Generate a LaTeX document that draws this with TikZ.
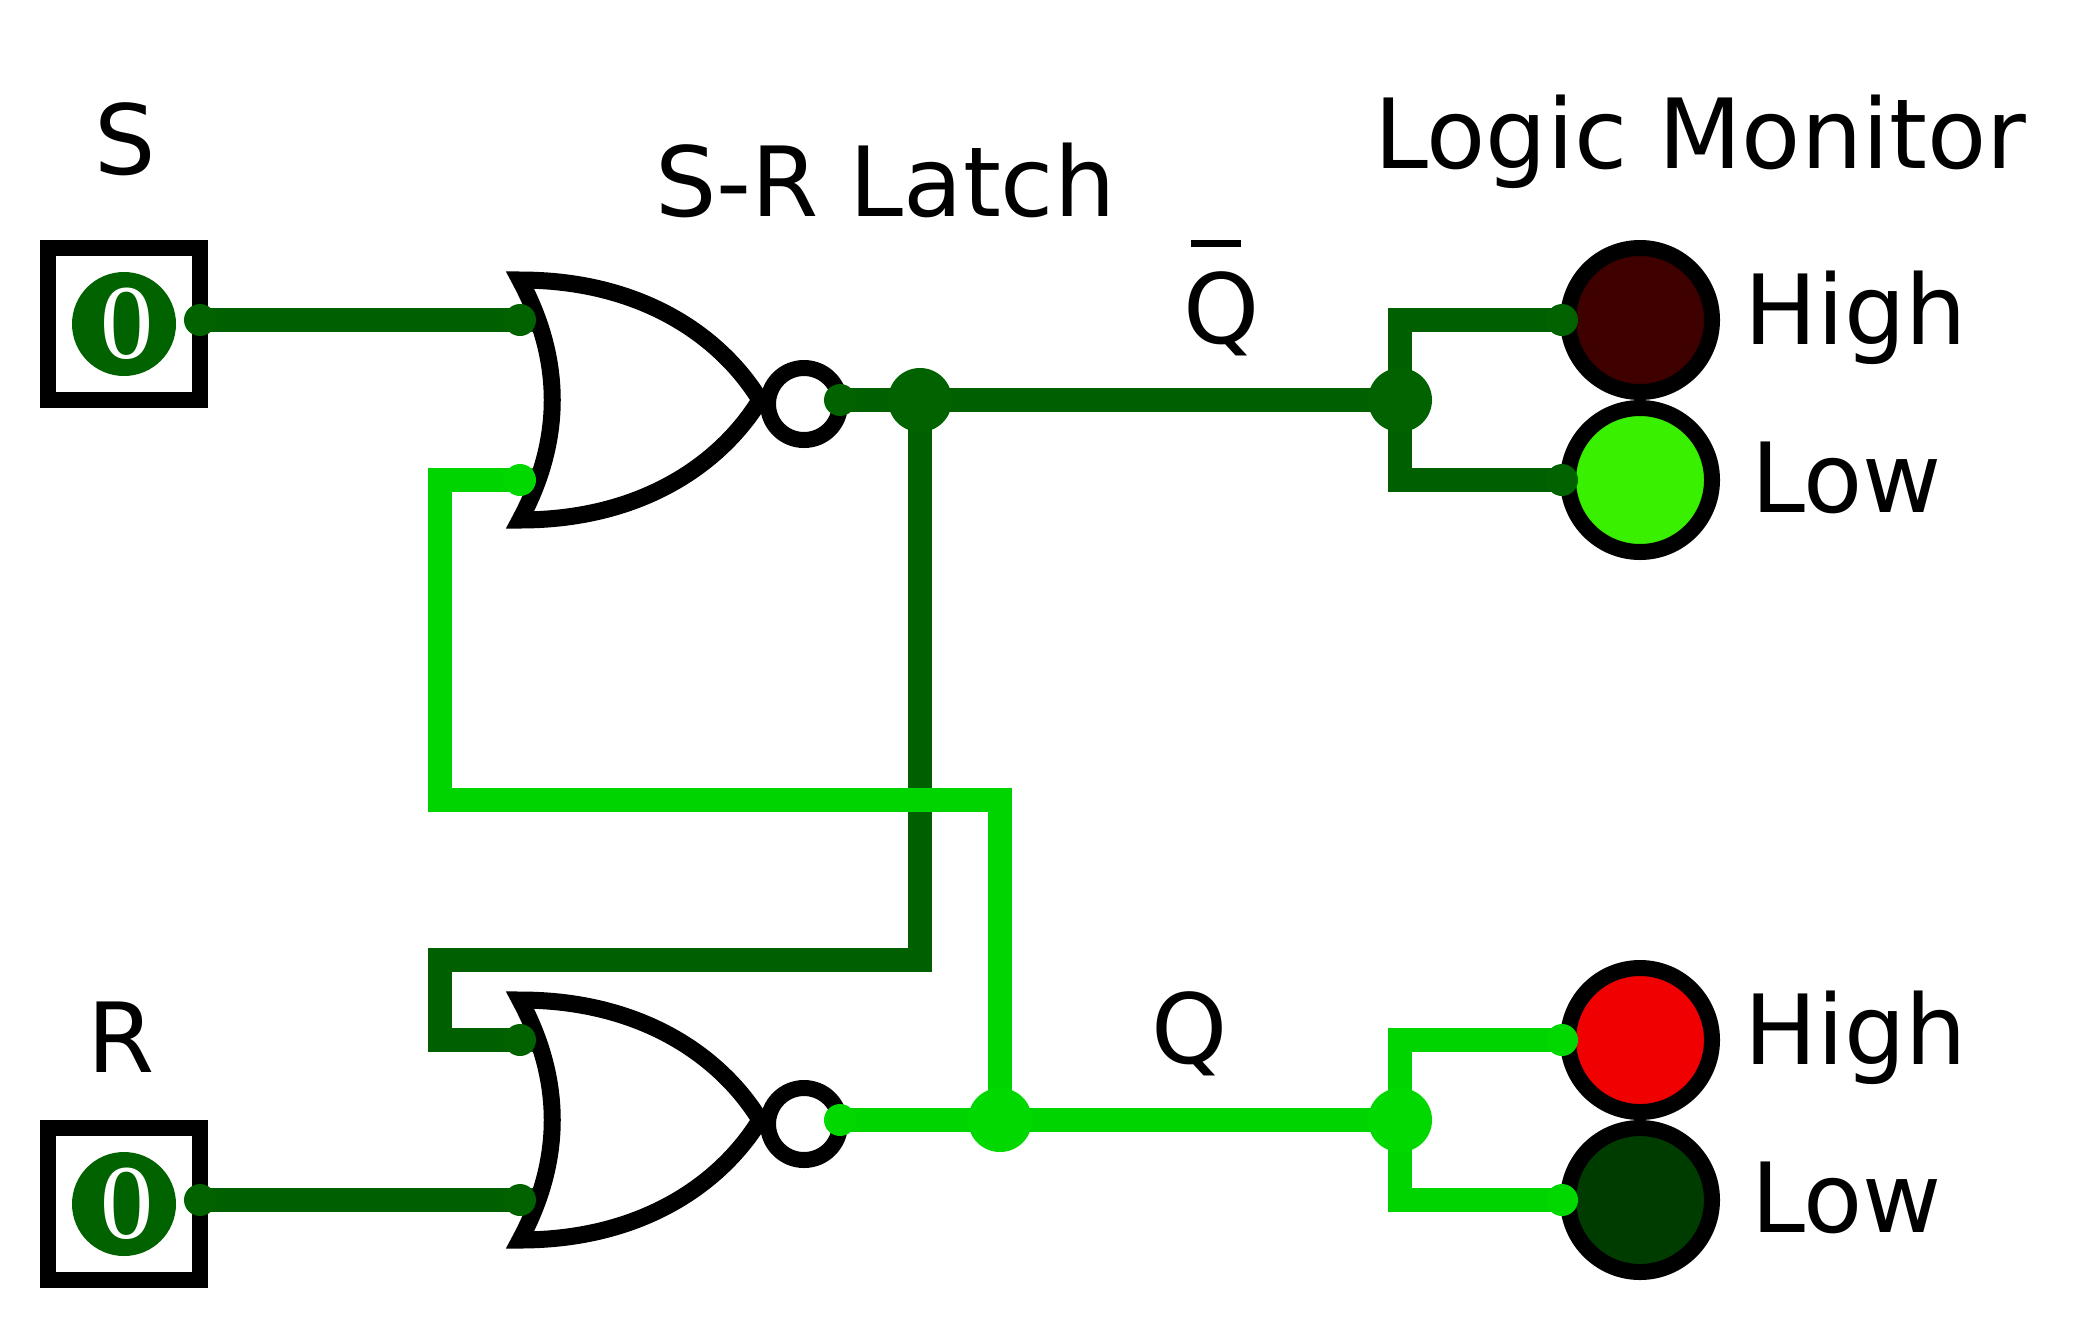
\documentclass[tikz,border=0pt]{standalone}
\usepackage{fontspec}
\setmainfont{DejaVu Sans}
\newfontfamily\zerofont{Liberation Serif}
\definecolor{lowwire}{HTML}{006000}
\definecolor{lowdot}{HTML}{006300}
\definecolor{highwire}{HTML}{00D400}
\definecolor{highdot}{HTML}{00D800}
\definecolor{ledoffred}{HTML}{3F0000}
\definecolor{ledonred}{HTML}{F00000}
\definecolor{ledongreen}{HTML}{38F000}
\definecolor{ledoffgreen}{HTML}{003C00}
\tikzset{
  lowline/.style={draw=lowwire,line width=12pt,line join=miter},
  highline/.style={draw=highwire,line width=12pt,line join=miter},
  gateline/.style={draw=black,fill=white,line width=8.5pt,line join=miter,miter limit=10},
  pindot/.style={circle,inner sep=0pt,minimum size=16pt,fill=#1},
  junction/.style={circle,inner sep=0pt,minimum size=32pt,fill=#1},
  switchbox/.style={rectangle,draw=black,fill=white,line width=8pt,inner sep=0pt,minimum width=76pt,minimum height=76pt},
  zerodisc/.style={circle,fill=lowdot,inner sep=0pt,minimum size=52pt},
  zerotext/.style={inner sep=0pt,text=white,font=\zerofont\fontsize{53}{53}\selectfont},
  led/.style={circle,draw=black,line width=8pt,fill=#1,inner sep=0pt,minimum size=72pt},
  lbl/.style={anchor=base west,inner sep=0pt,font=\fontsize{48.4}{58}\selectfont},
  bubble/.style={circle,draw=black,fill=white,line width=8pt,inner sep=0pt,minimum size=36pt}
}
\newcommand{\norgate}[1]{%
  \draw[gateline] (520,#1-120) .. controls (640,#1-120) and (720,#1-65) .. (760,#1)
    .. controls (720,#1+65) and (640,#1+120) .. (520,#1+120)
    .. controls (563,#1+40) and (563,#1-40) .. cycle;}
\begin{document}
\begin{tikzpicture}[x=0.5pt,y=-0.5pt]
\useasboundingbox (0,0) rectangle (2096,1328);

% switches
\node[switchbox] (swS) at (124,324) {};
\node[switchbox] (swR) at (124,1204) {};
\node[zerodisc] (dS) at (124,324) {};
\node[zerodisc] (dR) at (124,1204) {};
\node[zerotext] (zS) at (127,324) {0};
\node[zerotext] (zR) at (127,1204) {0};

% end points and junctions
\coordinate (g1a) at (548,320);
\coordinate (g1b) at (548,480);
\coordinate (g2a) at (548,1040);
\coordinate (g2b) at (548,1200);
\coordinate (crossL) at (440,800);
\coordinate (crossR) at (1000,800);
\coordinate (backL) at (440,960);
\coordinate (backR) at (920,960);

\coordinate (jQbar) at (920,400);
\coordinate (jQ) at (1000,1120);
\coordinate (mQbar) at (1400,400);
\coordinate (mQ) at (1400,1120);
\coordinate (outS) at (200,320);
\coordinate (outR) at (200,1200);
\coordinate (o1) at (840,400);
\coordinate (o2) at (840,1120);
\coordinate (l1) at (1562,320);
\coordinate (l2) at (1562,480);
\coordinate (l3) at (1562,1040);
\coordinate (l4) at (1562,1200);

% wires
\draw[lowline] (outS) -- (g1a);
\draw[lowline] (outR) -- (g2b);
\draw[lowline] (o1) -- (mQbar);
\draw[lowline] (l1) -| (mQbar) |- (l2);
\draw[lowline] (jQbar) -- (backR) -- (backL) -- (g2a -| backL) -- (g2a);
\draw[highline] (o2) -- (mQ);
\draw[highline] (l3) -| (mQ) |- (l4);
\draw[highline] (jQ) -- (crossR) -- (crossL) -- (g1b -| crossL) -- (g1b);

% gates
\norgate{400}
\norgate{1120}
\node[bubble] (b1) at (804,404) {};
\node[bubble] (b2) at (804,1124) {};

% LEDs
\node[led=ledoffred] (ledA) at (1640,320) {};
\node[led=ledongreen] (ledB) at (1640,480) {};
\node[led=ledonred] (ledC) at (1640,1040) {};
\node[led=ledoffgreen] (ledD) at (1640,1200) {};

% pin dots
\node[pindot=lowdot] at (outS) {};
\node[pindot=lowdot] at (outR) {};
\node[pindot=lowdot] at (520,320) {};
\node[pindot=highdot] at (520,480) {};
\node[pindot=lowdot] at (520,1040) {};
\node[pindot=lowdot] at (520,1200) {};
\node[pindot=lowdot] at (o1) {};
\node[pindot=highdot] at (o2) {};
\node[pindot=lowdot] at (l1) {};
\node[pindot=lowdot] at (l2) {};
\node[pindot=highdot] at (l3) {};
\node[pindot=highdot] at (l4) {};
\node[junction=lowdot] at (jQbar) {};
\node[junction=lowdot] at (mQbar) {};
\node[junction=highdot] at (jQ) {};
\node[junction=highdot] at (mQ) {};

% labels
\node[lbl] (tS) at (94,174) {S};
\node[lbl] (tR) at (87,1072) {R};
\node[lbl] (tLatch) at (655,216) {S-R Latch};
\node[lbl] (tMon) at (1374,168) {Logic Monitor};
\node[lbl] (tQbar) at (1183,343) {Q};
\fill[black] (1191,240) rectangle (1241,247);
\node[lbl] (tQ) at (1151,1063) {Q};
\node[lbl] (tH1) at (1744,344) {High};
\node[lbl] (tL1) at (1751,512) {Low};
\node[lbl] (tH2) at (1744,1064) {High};
\node[lbl] (tL2) at (1751,1232) {Low};
\end{tikzpicture}
\end{document}
